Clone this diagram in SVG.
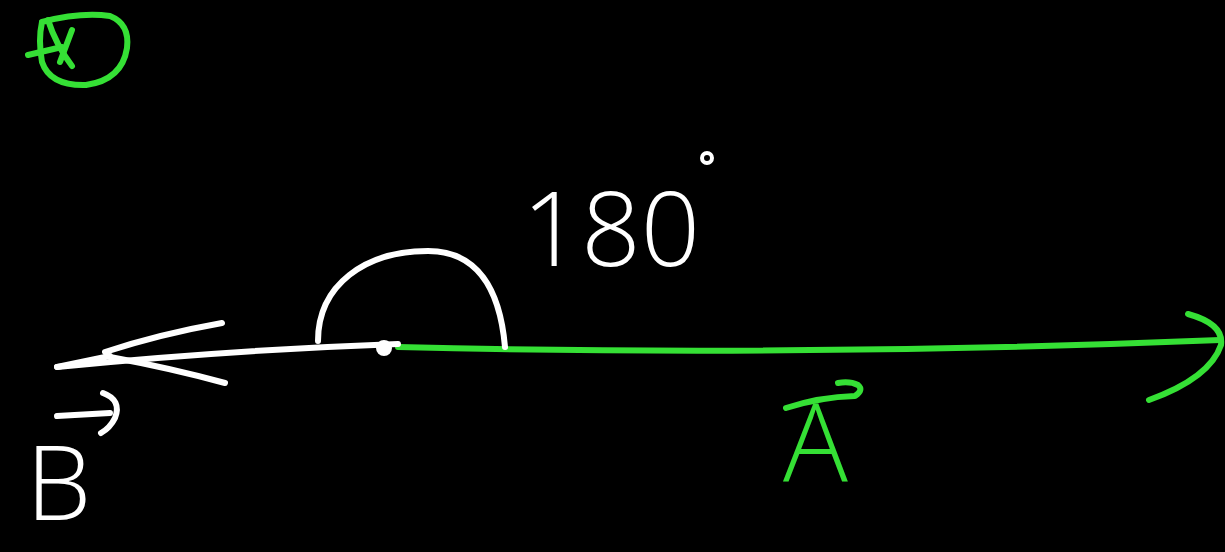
<svg xmlns="http://www.w3.org/2000/svg" width="1225" height="552" viewBox="0 0 1225 552">
  <style>
    .g { fill: none; stroke: #35e035; stroke-width: 6; stroke-linecap: round; stroke-linejoin: round; }
    .w { fill: none; stroke: #ffffff; stroke-width: 6; stroke-linecap: round; stroke-linejoin: round; }
    .tg { fill: #35e035; font-family: "Open Sans", "Liberation Sans", sans-serif; font-weight: 300; }
    .tw { fill: #ffffff; font-family: "Open Sans", "Liberation Sans", sans-serif; font-weight: 300; }
  </style>
  <rect x="0" y="0" width="1225" height="552" fill="#000000"/>

  <g id="marker">
    <path class="g" d="M42,22 Q80,12 110,16 Q130,24 127,48 Q122,80 86,85 Q50,86 42,62 Q38,40 42,22"/>
    <path class="g" d="M28,55 L62,47"/>
    <path class="g" d="M48,20 Q56,45 72,66"/>
    <path class="g" d="M72,30 L60,62"/>
  </g>

  <g id="connectors">
    <g id="vector-A">
      <path class="g" d="M398,347 Q800,357 1220,340"/>
      <path class="g" d="M1188,314 Q1224,324 1221,345 Q1210,378 1149,400"/>
    </g>
    <g id="vector-B">
      <path class="w" d="M398,344 Q230,350 57,367"/>
      <path class="w" d="M222,323 Q160,334 105,352"/>
      <path class="w" d="M225,383 Q170,368 110,357"/>
      <path class="w" stroke-width="9" d="M57,367 L110,356"/>
      <circle cx="384" cy="348" r="8" fill="#ffffff"/>
    </g>
  </g>

  <g id="angle">
    <path class="w" d="M318,341 C318,285 365,251 428,251 C478,251 500,290 505,347"/>
  </g>

  <g id="label-180">
    <text class="tw" x="522" y="266" font-size="104">180</text>
    <circle cx="707" cy="158" r="5" fill="none" stroke="#ffffff" stroke-width="4"/>
  </g>

  <g id="label-A">
    <text class="tg" x="783" y="482" font-size="108">A</text>
    <path class="g" d="M786,408 Q820,397 855,396 Q864,390 858,385 Q850,381 838,383"/>
  </g>

  <g id="label-B">
    <text class="tw" x="26" y="520" font-size="104">B</text>
    <path class="w" d="M57,416 L110,413"/>
    <path class="w" d="M103,393 Q122,400 115,418 Q110,428 101,433"/>
  </g>
</svg>
